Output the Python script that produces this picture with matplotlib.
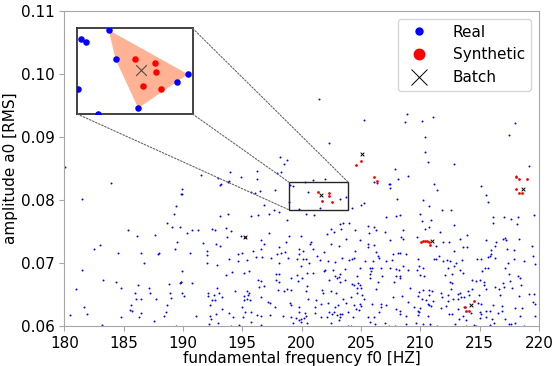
import numpy as np
import matplotlib
matplotlib.use("Agg")
import matplotlib.pyplot as plt
from matplotlib.lines import Line2D
from matplotlib.patches import Rectangle, Polygon, ConnectionPatch

# real voices: (f0 [Hz], a0 [RMS]), grouped by region
real_upper = [
    (201.44, .0960), (205.25, .0927), (208.91, .0936), (208.68, .0924), (210.13, .0925),
    (211.04, .0932), (218.02, .0922), (217.49, .0904), (202.34, .0891), (210.36, .0900),
    (210.36, .0876), (210.61, .0861), (212.83, .0858), (219.14, .0854), (207.90, .0849),
    (208.93, .0838), (208.15, .0833), (218.08, .0839), (202.00, .0833), (200.99, .0832),
    (207.39, .0826), (206.07, .0829), (206.32, .0827), (180.08, .0853), (198.18, .0869),
    (198.80, .0863), (198.52, .0858), (198.24, .0844), (197.96, .0843), (196.20, .0847),
    (196.28, .0833), (194.87, .0837), (193.97, .0845), (191.48, .0840), (193.84, .0830),
    (192.94, .0835), (193.19, .0825),
]
real_180_190 = [
    (183.93, .0827), (181.49, .0802), (189.85, .0809), (189.43, .0790), (189.23, .0778),
    (188.64, .0764), (189.04, .0757), (189.71, .0758), (185.36, .0752), (186.12, .0743),
    (187.64, .0744), (189.46, .0733), (182.98, .0729), (182.50, .0723), (189.35, .0722),
    (184.55, .0717), (186.46, .0716), (187.86, .0714), (188.00, .0716), (186.68, .0701),
    (181.49, .0690), (183.23, .0673), (184.35, .0670), (189.82, .0671), (189.74, .0668),
    (188.84, .0667), (180.96, .0659), (184.77, .0661), (186.23, .0665), (187.13, .0661),
    (185.92, .0652), (187.21, .0652), (188.90, .0652), (186.04, .0644), (186.46, .0644),
    (187.75, .0643), (188.98, .0645), (181.63, .0631), (185.64, .0633), (188.62, .0633),
    (185.53, .0626), (185.67, .0625), (188.59, .0623), (180.45, .0618), (181.91, .0620),
    (186.43, .0621), (184.74, .0615), (186.29, .0614), (188.36, .0616), (187.55, .0608),
    (183.20, .0602), (189.40, .0600),
]
real_190_200 = [
    (193.13, .0824), (193.83, .0829), (189.88, .0817), (189.88, .0809), (196.50, .0814),
    (196.11, .0812), (195.77, .0813), (197.79, .0816), (196.81, .0793), (197.70, .0785),
    (198.07, .0782), (197.23, .0778), (195.71, .0775), (196.30, .0777), (193.13, .0775),
    (193.83, .0778), (198.74, .0768), (192.46, .0755), (192.71, .0752), (193.61, .0756),
    (190.33, .0748), (190.77, .0753), (191.25, .0753), (194.09, .0751), (193.69, .0742),
    (194.90, .0743), (197.28, .0748), (198.91, .0743), (196.61, .0737), (191.70, .0732),
    (192.77, .0731), (193.16, .0728), (196.86, .0731), (198.13, .0726), (198.72, .0734),
    (196.58, .0723), (195.94, .0719), (190.58, .0717), (192.06, .0719), (192.01, .0713),
    (194.65, .0714), (194.98, .0716), (197.96, .0715), (198.24, .0716), (198.60, .0718),
    (196.16, .0710), (196.70, .0710), (197.42, .0709), (193.89, .0707), (194.67, .0703),
    (195.43, .0705), (192.06, .0701), (198.07, .0700), (198.88, .0708), (199.61, .0707),
    (199.81, .0715), (199.78, .0722), (192.85, .0697), (189.96, .0687), (194.14, .0686),
    (195.15, .0684), (195.54, .0687), (193.61, .0681), (197.87, .0683), (198.13, .0683),
    (196.30, .0674), (196.58, .0672), (197.82, .0674), (199.14, .0677), (199.64, .0682),
    (189.85, .0671), (190.75, .0668), (196.39, .0662), (196.83, .0664), (198.13, .0671),
    (199.70, .0672), (192.85, .0660), (189.90, .0652), (190.07, .0648), (192.12, .0652),
    (192.09, .0648), (193.02, .0652), (193.27, .0646), (192.65, .0649), (194.42, .0656),
    (195.43, .0656), (195.60, .0653), (195.15, .0648), (195.46, .0650), (195.38, .0644),
    (195.63, .0642), (195.12, .0641), (196.55, .0646), (198.01, .0658), (198.74, .0659),
    (198.52, .0656), (199.08, .0658), (192.68, .0642), (192.43, .0641), (192.29, .0634),
    (197.14, .0639), (197.31, .0637), (198.99, .0637), (199.08, .0633), (197.76, .0631),
    (193.30, .0627), (194.96, .0630), (195.26, .0623), (195.77, .0623), (193.86, .0621),
    (192.82, .0619), (192.32, .0617), (192.40, .0611), (191.08, .0616), (194.23, .0615),
    (195.04, .0614), (196.27, .0618), (196.58, .0616), (197.34, .0618), (198.46, .0616),
    (199.11, .0615), (199.56, .0613), (199.81, .0610), (192.96, .0605), (192.21, .0603),
    (194.03, .0600), (194.76, .0602), (196.61, .0602), (195.71, .0607), (199.30, .0606),
    (199.81, .0623), (199.75, .0631),
]
real_200_210 = [
    (207.42, .0825), (207.47, .0820), (204.97, .0792), (205.26, .0796), (208.01, .0802),
    (204.27, .0787), (200.35, .0778), (201.02, .0777), (207.08, .0773), (207.95, .0775),
    (208.26, .0776), (203.52, .0763), (203.99, .0763), (203.21, .0762), (202.51, .0754),
    (202.76, .0749), (203.29, .0755), (204.47, .0753), (205.56, .0759), (206.07, .0758),
    (206.24, .0752), (205.70, .0748), (207.02, .0749), (208.57, .0753), (199.98, .0743),
    (202.14, .0746), (203.77, .0738), (204.89, .0737), (207.47, .0737), (208.40, .0742),
    (208.51, .0739), (209.72, .0742), (200.77, .0734), (200.74, .0731), (202.45, .0730),
    (203.15, .0727), (205.59, .0730), (205.62, .0726), (206.13, .0729), (200.96, .0723),
    (200.12, .0719), (201.86, .0718), (204.47, .0720), (206.29, .0718), (206.43, .0712),
    (206.55, .0708), (207.70, .0715), (208.15, .0716), (208.31, .0717), (208.82, .0715),
    (201.30, .0712), (200.12, .0707), (200.35, .0706), (202.25, .0703), (203.40, .0709),
    (203.99, .0705), (204.27, .0706), (204.39, .0709), (205.37, .0703), (206.01, .0704),
    (207.08, .0703), (207.64, .0705), (209.80, .0706), (199.92, .0696), (201.58, .0705),
    (202.79, .0702), (200.65, .0700), (201.86, .0688), (201.94, .0690), (202.65, .0689),
    (203.63, .0691), (204.89, .0692), (205.73, .0693), (205.96, .0693), (205.82, .0688),
    (206.69, .0692), (207.42, .0693), (207.95, .0691), (208.17, .0689), (208.54, .0696),
    (208.96, .0689), (209.75, .0689), (200.46, .0684), (200.96, .0684), (203.21, .0683),
    (204.67, .0680), (205.73, .0676), (205.79, .0683), (206.80, .0679), (207.92, .0680),
    (208.26, .0677), (208.31, .0680), (200.06, .0677), (202.34, .0674), (202.81, .0679),
    (202.95, .0676), (203.21, .0671), (203.15, .0678), (203.68, .0674), (204.25, .0667),
    (204.39, .0665), (204.78, .0668), (204.89, .0666), (204.64, .0661), (204.98, .0660),
    (206.43, .0670), (207.81, .0671), (209.16, .0661), (200.43, .0664), (200.40, .0656),
    (201.69, .0658), (201.83, .0652), (202.51, .0656), (202.87, .0653), (204.19, .0647),
    (203.52, .0644), (204.67, .0652), (205.09, .0649), (206.24, .0659), (207.70, .0646),
    (208.43, .0648), (209.83, .0648), (200.51, .0643), (201.24, .0641), (201.13, .0631),
    (201.61, .0636), (202.19, .0637), (202.84, .0631), (203.04, .0633), (203.71, .0637),
    (204.39, .0634), (204.95, .0636), (204.98, .0632), (204.81, .0626), (204.61, .0627),
    (205.26, .0643), (205.96, .0635), (206.66, .0635), (206.66, .0630), (207.14, .0633),
    (207.95, .0627), (208.31, .0625), (208.96, .0638), (209.46, .0630), (200.29, .0621),
    (200.35, .0616), (200.18, .0613), (199.92, .0611), (199.98, .0607), (201.10, .0621),
    (202.14, .0615), (202.31, .0623), (202.56, .0620), (203.21, .0620), (203.24, .0615),
    (203.38, .0619), (202.98, .0618), (202.73, .0623), (203.88, .0622), (204.33, .0615),
    (205.59, .0615), (206.13, .0615), (206.52, .0622), (208.26, .0620), (208.76, .0617),
    (209.77, .0625), (200.49, .0606), (201.66, .0614), (202.45, .0606), (203.12, .0610),
    (204.19, .0601), (203.88, .0601), (205.73, .0607), (206.18, .0603), (207.00, .0606),
    (207.33, .0601), (207.87, .0601), (208.82, .0603), (209.66, .0606), (209.80, .0618),
]
real_210_220 = [
    (211.15, .0825), (211.43, .0816), (215.08, .0823), (215.58, .0808), (215.67, .0797),
    (210.25, .0800), (210.73, .0790), (211.85, .0784), (212.55, .0784), (210.00, .0778),
    (210.11, .0767), (210.87, .0769), (210.70, .0758), (210.37, .0754), (212.81, .0761),
    (216.12, .0774), (216.15, .0763), (217.02, .0774), (217.63, .0770), (218.22, .0773),
    (218.17, .0762), (219.57, .0777), (211.63, .0749), (213.96, .0745), (213.37, .0738),
    (212.39, .0734), (211.91, .0734), (212.86, .0720), (213.93, .0726), (213.62, .0725),
    (215.50, .0737), (216.40, .0734), (216.29, .0728), (216.96, .0739), (217.24, .0737),
    (217.16, .0740), (218.28, .0739), (211.29, .0727), (215.98, .0721), (217.30, .0722),
    (219.40, .0727), (217.94, .0721), (211.60, .0711), (211.18, .0706), (211.35, .0706),
    (211.88, .0704), (212.22, .0705), (212.53, .0703), (213.51, .0705), (212.97, .0701),
    (214.74, .0706), (215.16, .0707), (215.75, .0710), (215.86, .0712), (215.92, .0715),
    (216.34, .0709), (217.41, .0700), (217.94, .0707), (218.78, .0704), (219.48, .0712),
    (219.71, .0698), (209.86, .0695), (210.20, .0693), (212.86, .0695), (212.36, .0692),
    (213.34, .0690), (215.19, .0688), (215.42, .0692), (215.75, .0692), (217.16, .0693),
    (212.10, .0682), (212.67, .0683), (210.00, .0681), (210.28, .0679), (213.56, .0684),
    (217.52, .0683), (218.22, .0679), (218.42, .0676), (212.47, .0671), (212.64, .0668),
    (214.35, .0674), (214.69, .0672), (215.05, .0673), (215.36, .0670), (215.39, .0665),
    (216.31, .0662), (216.62, .0659), (216.99, .0668), (217.58, .0672), (218.50, .0666),
    (214.35, .0659), (209.86, .0654), (210.20, .0657), (210.70, .0658), (210.98, .0656),
    (210.76, .0649), (211.74, .0653), (212.36, .0650), (212.58, .0659), (213.17, .0651),
    (213.37, .0652), (213.45, .0647), (213.70, .0647), (212.78, .0643), (213.14, .0643),
    (214.04, .0656), (214.07, .0649), (214.94, .0649), (215.58, .0659), (216.68, .0650),
    (217.02, .0663), (217.77, .0660), (218.28, .0648), (219.20, .0651), (219.60, .0651),
    (210.14, .0643), (210.45, .0642), (210.65, .0635), (211.04, .0640), (211.82, .0647),
    (212.33, .0640), (214.88, .0637), (215.14, .0636), (216.09, .0633), (216.85, .0632),
    (219.54, .0639), (219.71, .0636), (209.97, .0629), (210.70, .0633), (210.93, .0632),
    (211.71, .0629), (212.19, .0632), (213.14, .0628), (213.68, .0631), (215.00, .0622),
    (215.14, .0620), (215.58, .0624), (215.86, .0624), (216.54, .0621), (216.93, .0624),
    (218.00, .0629), (218.61, .0629), (209.86, .0623), (210.67, .0617), (212.41, .0619),
    (212.69, .0619), (213.62, .0617), (214.29, .0621), (213.28, .0611), (213.84, .0610),
    (215.05, .0613), (215.53, .0615), (216.06, .0612), (217.16, .0612), (218.42, .0617),
    (219.68, .0617), (210.22, .0604), (210.79, .0604), (210.84, .0601), (211.40, .0601),
    (212.89, .0604), (213.87, .0601), (214.57, .0602), (214.71, .0600), (215.86, .0602),
    (216.20, .0605), (217.44, .0604), (217.66, .0604), (218.00, .0605), (218.78, .0600),
]
# real voices inside the zoomed box
real_box = [
    (200.26, .08281), (199.04, .08235), (199.28, .08220), (200.56, .08131), (203.70, .08054),
    (203.22, .08016), (201.54, .07881), (198.92, .07977), (199.81, .07853),
]
hull_idx = [0, 4, 5, 6, 3]   # neighbours of the batch that span the shaded hull

synthetic = [
    (201.40, .08131), (202.27, .08110), (202.30, .08064), (201.75, .07994), (202.53, .07977),
    (195.26, .0741),
    (205.03, .0862), (204.58, .0855), (206.13, .0837), (206.36, .0830),
    (210.08, .0733), (210.22, .0735), (210.42, .0736), (210.56, .0735), (210.70, .0733), (210.79, .0729),
    (214.55, .0640), (213.79, .0630), (213.82, .0625), (214.07, .0625),
    (218.08, .0837), (218.36, .0833), (218.97, .0833), (218.36, .0812), (218.08, .0818), (218.59, .0812),
]
batch = [(201.65, .08074), (195.26, .0741), (205.06, .0873), (210.98, .0735), (214.27, .0633), (218.67, .0818)]

zoom_x = (198.9, 203.9)
zoom_y = (0.0785, 0.0829)

real = np.array(real_upper + real_180_190 + real_190_200 + real_200_210 + real_210_220 + real_box)
syn = np.array(synthetic)
bat = np.array(batch)
box = np.array(real_box)

fig = plt.figure(figsize=(5.52, 3.66), dpi=100)
ax = fig.add_axes([0.1165, 0.1085, 0.8598, 0.8615])

ax.scatter(real[:, 0], real[:, 1], s=2, color='blue', linewidths=0)
ax.scatter(syn[:, 0], syn[:, 1], s=4, color='red', linewidths=0)
ax.scatter(bat[:, 0], bat[:, 1], s=7, marker='x', color='black', linewidths=0.7)

ax.set_xlim(180, 220)
ax.set_ylim(0.06, 0.11)
ax.set_xticks([180, 185, 190, 195, 200, 205, 210, 215, 220])
ax.set_yticks([0.06, 0.07, 0.08, 0.09, 0.10, 0.11])
ax.set_yticklabels(['0.06', '0.07', '0.08', '0.09', '0.10', '0.11'])
ax.tick_params(labelsize=11, color='0.65')
for sp in ax.spines.values():
    sp.set_color('0.65')
ax.set_xlabel('fundamental frequency f0 [HZ]', fontsize=11, labelpad=0)
ax.set_ylabel('amplitude a0 [RMS]', fontsize=11, labelpad=2)

# zoom box in the main axes
ax.add_patch(Rectangle((zoom_x[0], zoom_y[0]), zoom_x[1] - zoom_x[0], zoom_y[1] - zoom_y[0],
                       fill=False, edgecolor='0.15', linewidth=1.0, zorder=5))

# inset
axins = ax.inset_axes([0.0274, 0.673, 0.243, 0.272])
axins.add_patch(Polygon(box[hull_idx], closed=True, facecolor='lightsalmon', alpha=0.8,
                        edgecolor='none', zorder=1))
axins.scatter(real[:, 0], real[:, 1], s=22, color='blue', linewidths=0, zorder=3)
axins.scatter(syn[:, 0], syn[:, 1], s=22, color='red', linewidths=0, zorder=3)
axins.scatter(bat[:, 0], bat[:, 1], s=60, marker='x', color='0.3', linewidths=0.8, zorder=4)
axins.set_xlim(*zoom_x)
axins.set_ylim(*zoom_y)
axins.set_xticks([])
axins.set_yticks([])
for sp in axins.spines.values():
    sp.set_color('0.2')
    sp.set_linewidth(1.3)

# dashed connectors between inset and box
for ins_corner, box_corner in [((1, 1), (zoom_x[1], zoom_y[1])),
                               ((1, 0), (zoom_x[0], zoom_y[1])),
                               ((0, 0), (zoom_x[0], zoom_y[0]))]:
    con = ConnectionPatch(xyA=ins_corner, coordsA=axins.transAxes,
                          xyB=box_corner, coordsB=ax.transData,
                          linestyle=(0, (1.5, 1.5)), color='0.4', linewidth=0.8)
    fig.add_artist(con)

handles = [
    Line2D([], [], marker='o', linestyle='none', color='blue', markersize=5),
    Line2D([], [], marker='o', linestyle='none', color='red', markersize=7.5),
    Line2D([], [], marker='x', linestyle='none', color='black', markersize=12, markeredgewidth=0.7),
]
ax.legend(handles, ['Real', 'Synthetic', 'Batch'], loc='upper right', fontsize=11,
          handletextpad=1.2)

fig.savefig('out.png', dpi=100)
